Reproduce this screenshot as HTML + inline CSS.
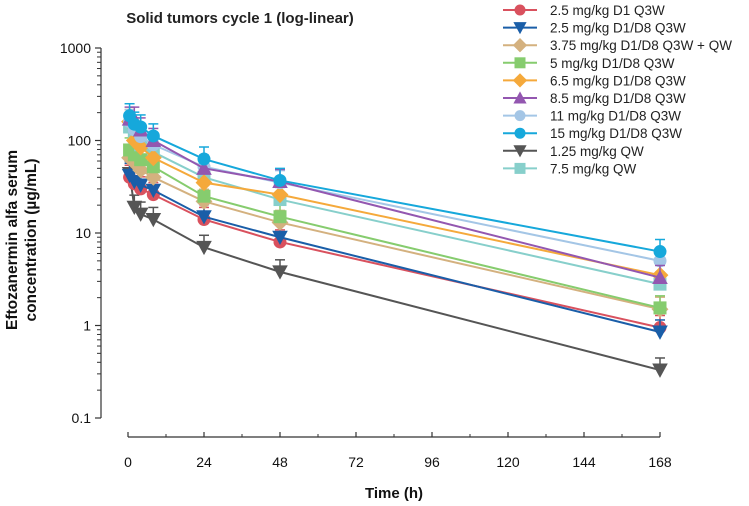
<!DOCTYPE html>
<html><head><meta charset="utf-8"><style>
body{margin:0;background:#fff;}
svg{display:block;font-family:"Liberation Sans",Arial,sans-serif;}
</style></head><body>
<svg id="chart" width="749" height="506">
<text x="240" y="23" text-anchor="middle" font-size="15" font-weight="bold" fill="#222">Solid tumors cycle 1 (log-linear)</text>
<g font-size="15.5" font-weight="bold" fill="#111" text-anchor="middle">
<text transform="translate(17,240) rotate(-90)">Eftozanermin alfa serum</text>
<text transform="translate(36,240) rotate(-90)">concentration (µg/mL)</text>
</g>
<text x="394" y="498" text-anchor="middle" font-size="15" font-weight="bold" fill="#111">Time (h)</text>
<g id="axes"></g>
<g id="series"></g>
<g id="legend"></g>
</svg>
<script>
const times = [0.5, 2, 4, 8, 24, 48, 168];
const seriesNames = ["2.5 mg/kg D1 Q3W","2.5 mg/kg D1/D8 Q3W","3.75 mg/kg D1/D8 Q3W + QW","5 mg/kg D1/D8 Q3W","6.5 mg/kg D1/D8 Q3W","8.5 mg/kg D1/D8 Q3W","11 mg/kg D1/D8 Q3W","15 mg/kg D1/D8 Q3W","1.25 mg/kg QW","7.5 mg/kg QW"];
const sRed = [40, 34, 30, 26, 14, 8, 0.95];
const sBlue = [42, 36, 33, 29, 15, 9, 0.85];
const sTan = [65, 58, 48, 40, 22, 13, 1.5];
const sGreen = [79, 70, 62, 52, 25, 15, 1.55];
const sOrange = [160, 100, 85, 65, 35, 26, 3.5];
const sPurple = [170, 170, 130, 100, 50, 36, 3.3];
const sLightBlue = [160, 130, 110, 90, 52, 35, 5];
const sCyan = [185, 150, 140, 112, 63, 37, 6.3];
const sGray = [44, 19, 16, 14, 7, 3.8, 0.33];
const sTeal = [140, 110, 90, 75, 40, 23, 2.8];
const allSeries = [sRed,sBlue,sTan,sGreen,sOrange,sPurple,sLightBlue,sCyan,sGray,sTeal];
const colors = ["#d9515e","#1a5ea8","#d4b17f","#86cc6e","#f5a93b","#9357b0","#a4c6e6","#16a8db","#555555","#87cfcb"];
const markers = ["circle","tri-down","diamond","square","diamond","tri-up","circle","circle","tri-down","square"];
const yTicks = [0.1, 1, 10, 100, 1000];
const xTicks = [0, 24, 48, 72, 96, 120, 144, 168];

const NS="http://www.w3.org/2000/svg";
const X = t => 128 + t*(660-128)/168;
const Y = v => 418 - (Math.log10(v)+1)*92.5;
function mk(tag, attrs, parent){const e=document.createElementNS(NS,tag);for(const k in attrs)e.setAttribute(k,attrs[k]);parent.appendChild(e);return e;}
const axes=document.getElementById('axes');
let ya=mk('line',{x1:101,y1:Y(1000),x2:101,y2:Y(0.1),stroke:'#333','stroke-width':1.2},axes);


for(let d=0.1; d<1000; d*=10){for(let m=2;m<=9;m++){const v=d*m;mk('line',{x1:97,y1:Y(v),x2:101,y2:Y(v),stroke:'#333','stroke-width':1},axes);}}
yTicks.forEach(v=>{mk('line',{x1:95,y1:Y(v),x2:101,y2:Y(v),stroke:'#333','stroke-width':1.2},axes);
 const t=mk('text',{x:91,y:Y(v)+5,'text-anchor':'end','font-size':14,fill:'#111'},axes);t.textContent=String(v);
 
 });
let xa=mk('line',{x1:X(0),y1:437,x2:X(168),y2:437,stroke:'#333','stroke-width':1.2},axes);


for(let t=12;t<168;t+=24)mk('line',{x1:X(t),y1:434,x2:X(t),y2:437,stroke:'#333'},axes);
xTicks.forEach(t=>{mk('line',{x1:X(t),y1:432,x2:X(t),y2:437,stroke:'#333','stroke-width':1.2},axes);
 const l=mk('text',{x:X(t),y:467,'text-anchor':'middle','font-size':14,fill:'#111'},axes);l.textContent=String(t);
 
 });

function marker(type,x,y,c,parent,s){
 let e;
 if(type==='circle')e=mk('circle',{cx:x,cy:y,r:s,fill:c},parent);
 else if(type==='square')e=mk('rect',{x:x-s,y:y-s,width:2*s,height:2*s,fill:c},parent);
 else if(type==='diamond')e=mk('polygon',{points:`${x},${y-s*1.3} ${x+s*1.3},${y} ${x},${y+s*1.3} ${x-s*1.3},${y}`,fill:c},parent);
 else if(type==='tri-down')e=mk('polygon',{points:`${x-s*1.2},${y-s} ${x+s*1.2},${y-s} ${x},${y+s*1.2}`,fill:c},parent);
 else e=mk('polygon',{points:`${x-s*1.2},${y+s} ${x+s*1.2},${y+s} ${x},${y-s*1.2}`,fill:c},parent);
 return e;
}
const sg=document.getElementById('series');
const order=[8,0,1,2,3,9,4,6,5,7];
order.forEach(i=>{
 const vals=allSeries[i], c=colors[i];
 const g=mk('g',{},sg);
 
 
 vals.forEach((v,j)=>{const x=X(times[j]),y=Y(v),yt=Y(v*1.35);
  mk('line',{x1:x,y1:y,x2:x,y2:yt,stroke:c,'stroke-width':1.5},g);
  mk('line',{x1:x-5,y1:yt,x2:x+5,y2:yt,stroke:c,'stroke-width':1.5},g);});
 const pts=vals.map((v,j)=>X(times[j])+','+Y(v)).join(' ');
 const pl=mk('polyline',{points:pts,fill:'none',stroke:c,'stroke-width':2},g);
 
 
 vals.forEach((v,j)=>{const m=marker(markers[i],X(times[j]),Y(v),c,g,6.5);
  
  });
});
const lg=document.getElementById('legend');
seriesNames.forEach((n,i)=>{const y=10+i*17.6;
 const g=mk('g',{},lg);
 
 
 mk('line',{x1:503,y1:y,x2:537,y2:y,stroke:colors[i],'stroke-width':2},g);
 marker(markers[i],520,y,colors[i],g,5.5);
 const t=mk('text',{x:550,y:y+5,'font-size':13.5,fill:'#222'},g);t.textContent=n;});
</script>
</body></html>
